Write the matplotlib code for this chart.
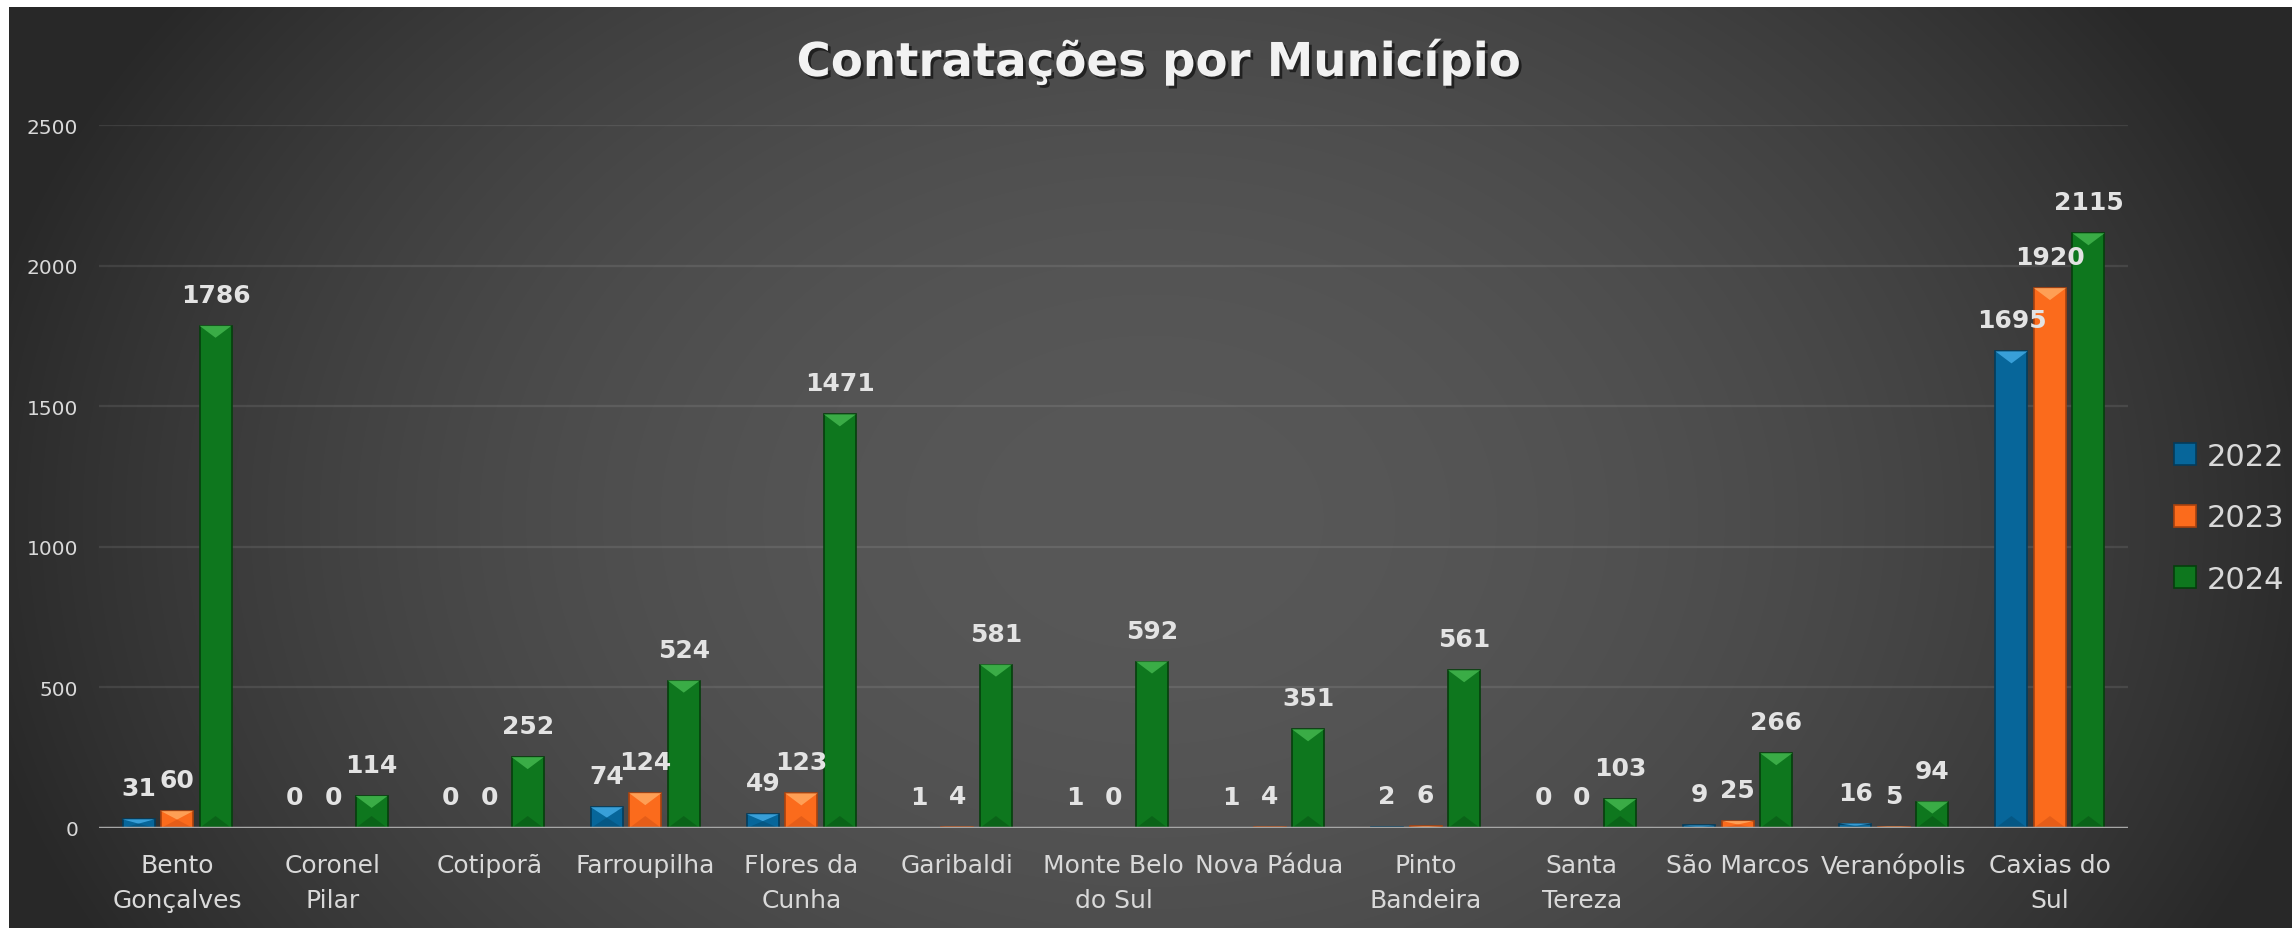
import numpy as np
import matplotlib.pyplot as plt
from matplotlib.patches import Polygon
import matplotlib.patheffects as pe

# -------------------
# Data
# -------------------

municipios = ["Bento\nGonçalves", "Coronel\nPilar", "Cotiporã", "Farroupilha",
              "Flores da\nCunha", "Garibaldi", "Monte Belo\ndo Sul", "Nova Pádua",
              "Pinto\nBandeira", "Santa\nTereza", "São Marcos", "Veranópolis",
              "Caxias do\nSul"]

v2022 = [31, 0, 0, 74, 49, 1, 1, 1, 2, 0, 9, 16, 1695]
v2023 = [60, 0, 0, 124, 123, 4, 0, 4, 6, 0, 25, 5, 1920]
v2024 = [1786, 114, 252, 524, 1471, 581, 592, 351, 561, 103, 266, 94, 2115]

anos = ["2022", "2023", "2024"]

# -------------------
# Style
# -------------------

W, H = 2292, 929
DPI = 100

# main, light (top bevel), dark (bottom bevel), edge
cores = [
    ("#07669a", "#3ea6e0", "#05547f", "#033c5c"),
    ("#fb6b1c", "#ffa55c", "#e05a18", "#a9420e"),
    ("#0e771e", "#3fb24b", "#0a5e17", "#053f0c"),
]

txt = "#d9d9d9"

fig = plt.figure(figsize=(W / DPI, H / DPI), dpi=DPI, facecolor="white")

# -------------------
# Background (radial gradient)
# -------------------

bx0, by0 = 9, 8
bg = fig.add_axes([bx0 / W, 0, (W - bx0) / W, (H - by0) / H])
bg.set_axis_off()

xx, yy = np.meshgrid(np.arange(bx0, W), np.arange(by0, H))
d2 = ((xx - 1150) / 1200.0) ** 2 + ((yy - 520) / 900.0) ** 2
g = np.clip(1 - d2, 0, 1)
lum = (40 + 48 * g) / 255.0
img = np.dstack([lum, lum, lum])
bg.imshow(img, aspect="auto", interpolation="bilinear")

# -------------------
# Main axes
# -------------------

ax = fig.add_axes([99 / W, 100 / H, (2128 - 99) / W, (829 - 126) / H])
ax.set_facecolor("none")

x = np.arange(len(municipios))
w = 0.205
passo = 0.2466
series = [v2022, v2023, v2024]

ax.set_xlim(-0.5, len(municipios) - 0.5)
ax.set_ylim(0, 2500)
ax.set_yticks(np.arange(0, 2501, 500))

ax.yaxis.grid(True, color="white", alpha=0.09, linewidth=1.6)
ax.set_axisbelow(True)

for s in ax.spines.values():
    s.set_visible(False)

ax.tick_params(axis="both", length=0)
ax.tick_params(axis="y", labelsize=14.5, labelcolor=txt, pad=15)
ax.set_xticks(x)
ax.set_xticklabels(municipios, fontsize=18, color=txt, linespacing=1.6)
ax.tick_params(axis="x", pad=18)

fig.canvas.draw()
p0 = ax.transData.transform((0, 0))
p1 = ax.transData.transform((1, 1))
ppy = p1[1] - p0[1]

handles = []

for k, vals in enumerate(series):
    main, light, dark, edge = cores[k]
    bars = ax.bar(x + (k - 1) * passo, vals, width=w, color=main,
                  edgecolor=edge, linewidth=1.2, zorder=2, label=anos[k])
    handles.append(bars)

    for b, v in zip(bars, vals):
        bx = b.get_x()
        bw = b.get_width()
        bh = b.get_height()
        if bh <= 0:
            continue
        dep = min(12 / ppy, bh / 2)
        top = Polygon([(bx, bh), (bx + bw, bh), (bx + bw / 2, bh - dep)],
                      closed=True, facecolor=light, edgecolor="none",
                      zorder=3, alpha=0.9)
        bot = Polygon([(bx, 0), (bx + bw, 0), (bx + bw / 2, dep)],
                      closed=True, facecolor=dark, edgecolor="none",
                      zorder=3, alpha=0.8)
        ax.add_patch(top)
        ax.add_patch(bot)

    for xi, v in zip(x + (k - 1) * passo, vals):
        ax.annotate(str(v), (xi, v), xytext=(0, 22.3),
                    textcoords="offset points", ha="center", va="center",
                    fontsize=18, fontweight="bold", color="#e3e3e3",
                    zorder=5)

ax.axhline(0, color="#a6a6a6", linewidth=2.5, zorder=4)

# -------------------
# Legend
# -------------------

leg = ax.legend(handles=handles, loc="upper left",
                bbox_to_anchor=(2174 / W, 1 - 443 / H),
                bbox_transform=fig.transFigure,
                frameon=False, fontsize=22, borderpad=0,
                handlelength=0.72, handleheight=0.72,
                handletextpad=0.35, labelspacing=1.06, borderaxespad=0)
for t in leg.get_texts():
    t.set_color(txt)

# -------------------
# Title
# -------------------

fig.text(1158 / W, 1 - 77 / H, "Contratações por Município",
         ha="center", va="baseline", fontsize=33.6, fontweight="bold",
         color="#f2f2f2",
         path_effects=[pe.withSimplePatchShadow(offset=(2, -2),
                                                shadow_rgbFace="black",
                                                alpha=0.55)])

fig.savefig("out.png", dpi=DPI, facecolor=fig.get_facecolor())
